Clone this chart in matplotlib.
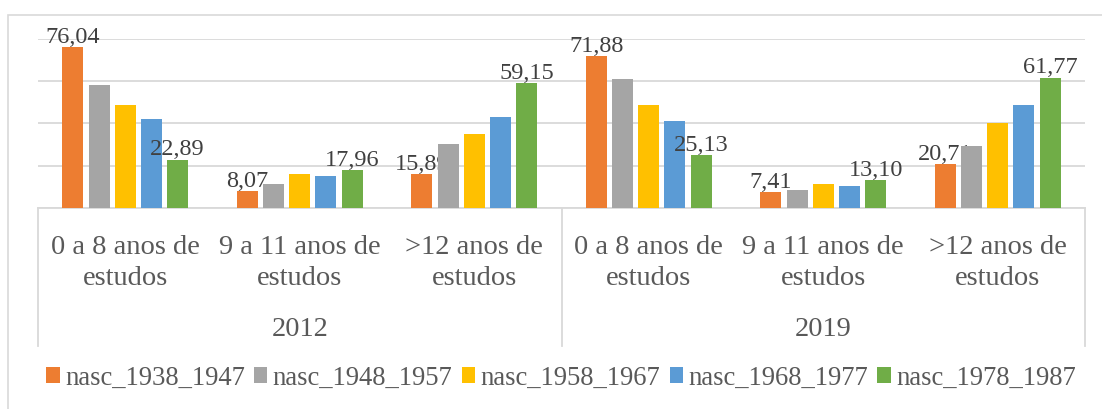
import matplotlib.pyplot as plt
import matplotlib.patches as mpatches
from matplotlib.lines import Line2D
import numpy as np

# Data
years = ['2012', '2019']
categories = ['0 a 8 anos de\nestudos', '9 a 11 anos de\nestudos', '>12 anos de\nestudos']
series = ['nasc_1938_1947', 'nasc_1948_1957', 'nasc_1958_1967', 'nasc_1968_1977', 'nasc_1978_1987']
nasc_1938_1947 = [76.04, 8.07, 15.89, 71.88, 7.41, 20.71]
nasc_1948_1957 = [58.1, 11.4, 30.5, 61.0, 8.6, 29.5]
nasc_1958_1967 = [48.6, 16.2, 35.2, 48.6, 11.4, 40.0]
nasc_1968_1977 = [41.9, 15.2, 42.9, 41.0, 10.5, 48.6]
nasc_1978_1987 = [22.89, 17.96, 59.15, 25.13, 13.10, 61.77]
values = [nasc_1938_1947, nasc_1948_1957, nasc_1958_1967, nasc_1968_1977, nasc_1978_1987]
labeled = [0, 4]  # only first and last series carry data labels

colors = ['#ED7D31', '#A5A5A5', '#FFC000', '#5B9BD5', '#70AD47']
text_color = '#595959'
line_color = '#D9D9D9'
font = 'Liberation Serif'

W, H = 1102, 409
fig = plt.figure(figsize=(W / 100, H / 100), dpi=100)

def fx(px):
    return px / W

def fy(py):
    return 1 - py / H

# outer chart border (cut off at right and bottom)
fig.patches.append(mpatches.Rectangle((fx(8), fy(430)), fx(1110) - fx(8), fy(15) - fy(430),
                                      transform=fig.transFigure, fill=False,
                                      edgecolor=line_color, linewidth=1.2))

left, right, top, base = 38, 1085, 39, 208
ax = fig.add_axes([fx(left), fy(base), fx(right) - fx(left), fy(top) - fy(base)])

n_cat = len(years) * len(categories)
x = np.arange(n_cat)
slot = 0.15
bw = 0.12
for i, (vals, c) in enumerate(zip(values, colors)):
    xs = x + (i - 2) * slot
    ax.bar(xs, vals, width=bw, color=c, label=series[i], zorder=3)
    if i in labeled:
        for xi, v in zip(xs, vals):
            ax.annotate(f'{v:.2f}'.replace('.', ','), (xi, v), xytext=(0, 3),
                        textcoords='offset points', ha='center', va='baseline',
                        fontsize=17.5, family=font, color='#404040', annotation_clip=False)

ax.set_xlim(-0.5, n_cat - 0.5)
ax.set_ylim(0, 80)
ax.set_yticks([0, 20, 40, 60, 80])
ax.yaxis.grid(True, color=line_color, linewidth=1.3, zorder=0)
ax.set_yticklabels([])
ax.set_xticks([])
ax.tick_params(left=False, bottom=False)
for s in ['top', 'right', 'left']:
    ax.spines[s].set_visible(False)
ax.spines['bottom'].set_color(line_color)
ax.spines['bottom'].set_linewidth(1.3)

# multi-level category axis
for xb in [-0.5, 2.5, 5.5]:
    px = left + (xb + 0.5) / n_cat * (right - left)
    fig.add_artist(Line2D([fx(px), fx(px)], [fy(base), fy(346)], transform=fig.transFigure,
                          color=line_color, linewidth=1.3))

for k in range(n_cat):
    px = left + (k + 0.5) / n_cat * (right - left)
    fig.text(fx(px), fy(263), categories[k % 3], ha='center', va='center', fontsize=20.5,
             family=font, color=text_color, linespacing=1.3)

for j, yr in enumerate(years):
    px = left + (j * 3 + 1.5) / n_cat * (right - left)
    fig.text(fx(px), fy(329), yr, ha='center', va='center', fontsize=20.5,
             family=font, color=text_color)

leg = fig.legend(loc='center', bbox_to_anchor=(fx(561), fy(378)), ncol=5, frameon=False,
                 prop={'family': font, 'size': 19.2}, handlelength=0.5, handleheight=0.5,
                 handletextpad=0.2, columnspacing=0.35, labelcolor=text_color)

fig.savefig('out.png', dpi=100)
